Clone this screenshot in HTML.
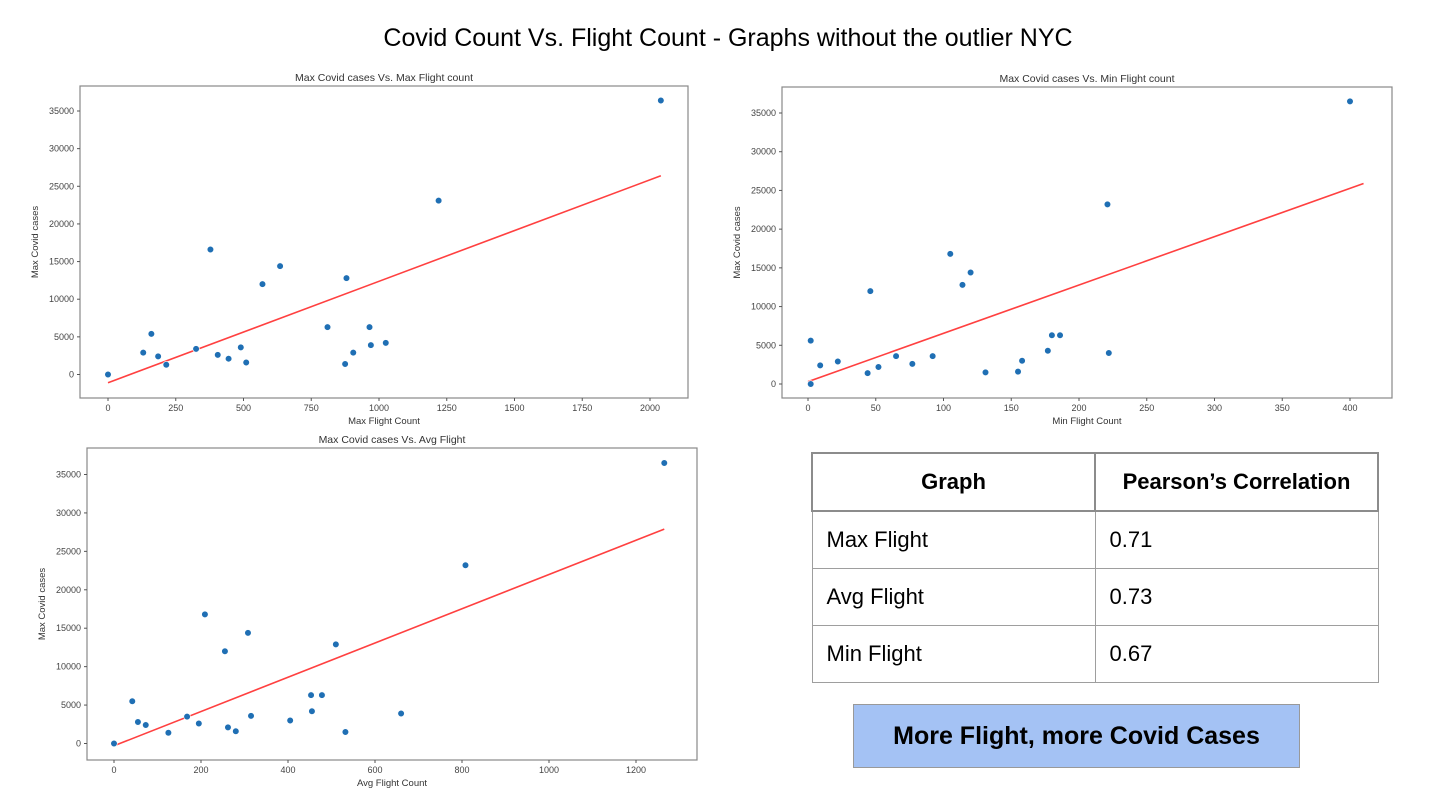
<!DOCTYPE html>
<html><head><meta charset="utf-8"><style>
body{margin:0;width:1440px;height:806px;background:#fff;font-family:"Liberation Sans",sans-serif;position:relative;overflow:hidden}
#title{position:absolute;left:0;width:1456px;top:24px;text-align:center;font-size:25px;color:#000}
svg{position:absolute;left:0;top:0}
table{position:absolute;left:811px;top:452px;border-collapse:collapse;font-size:22px}
td,th{border:1.5px solid #9e9e9e;height:56px;padding:0 14px;text-align:left}
th{font-weight:bold;text-align:center;border:2.5px solid #8c8c8c}
#btn{position:absolute;left:853px;top:704px;width:445px;height:62px;background:#a4c2f4;border:1px solid #999;font-weight:bold;font-size:25px;display:flex;align-items:center;justify-content:center}
</style></head><body>
<div id="title">Covid Count Vs. Flight Count - Graphs without the outlier NYC</div>
<svg id="svg" width="1440" height="806"></svg>
<table>
<tr><th style="width:253px">Graph</th><th style="width:253px">Pearson’s Correlation</th></tr>
<tr><td>Max Flight</td><td>0.71</td></tr>
<tr><td>Avg Flight</td><td>0.73</td></tr>
<tr><td>Min Flight</td><td>0.67</td></tr>
</table>
<div id="btn">More Flight, more Covid Cases</div>
<script>
const maxX=[0,130,160,185,215,325,378,405,445,490,510,570,635,810,875,880,905,965,970,1025,1220,2040];
const maxY=[0,2900,5400,2400,1300,3400,16600,2600,2100,3600,1600,12000,14400,6300,1400,12800,2900,6300,3900,4200,23100,36400];
const maxFit=[[0,-1100],[2040,26400]];
const maxTicks=[0,250,500,750,1000,1250,1500,1750,2000];
const minX=[2,2,9,22,44,46,52,65,77,92,105,114,120,131,155,158,177,180,186,221,222,400];
const minY=[0,5600,2400,2900,1400,12000,2200,3600,2600,3600,16800,12800,14400,1500,1600,3000,4300,6300,6300,23200,4000,36500];
const minFit=[[0,300],[410,25900]];
const minTicks=[0,50,100,150,200,250,300,350,400];
const avgX=[0,42,55,73,125,168,195,209,255,262,280,308,315,405,453,455,478,510,532,660,808,1265];
const avgY=[0,5500,2800,2400,1400,3500,2600,16800,12000,2100,1600,14400,3600,3000,6300,4200,6300,12900,1500,3900,23200,36500];
const avgFit=[[0,-300],[1265,27900]];
const avgTicks=[0,200,400,600,800,1000,1200];
const yTicks=[0,5000,10000,15000,20000,25000,30000,35000];
const svg=document.getElementById('svg');const NS='http://www.w3.org/2000/svg';
function el(t,a,txt){const e=document.createElementNS(NS,t);for(const k in a)e.setAttribute(k,a[k]);if(txt!=null)e.textContent=txt;svg.appendChild(e);return e;}
function chart(c){
 const sx=v=>c.x0+v*c.kx, sy=v=>c.y0-v*c.ky;
 const f=el('rect',{x:c.L,y:c.T,width:c.R-c.L,height:c.B-c.T,fill:'none',stroke:'#888','stroke-width':1.2});
 
 const t=el('text',{x:(c.L+c.R)/2,y:c.T-5,'text-anchor':'middle','font-size':10.5,fill:'#333'},c.title);
 
 c.xt.forEach(v=>{el('line',{x1:sx(v),x2:sx(v),y1:c.B,y2:c.B+3,stroke:'#555'});
  const e=el('text',{x:sx(v),y:c.B+13,'text-anchor':'middle','font-size':9,fill:'#444'},v);
  });
 yTicks.forEach(v=>{el('line',{x1:c.L-3,x2:c.L,y1:sy(v),y2:sy(v),stroke:'#555'});
  const e=el('text',{x:c.L-6,y:sy(v)+3,'text-anchor':'end','font-size':9,fill:'#444'},v);
  });
 const xl=el('text',{x:(c.L+c.R)/2,y:c.B+26,'text-anchor':'middle','font-size':9.5,fill:'#333'},c.xlab);
 
 const yx=c.L-42,yy=(c.T+c.B)/2;
 const yl=el('text',{x:yx,y:yy,'text-anchor':'middle','font-size':9.5,fill:'#333',transform:`rotate(-90 ${yx} ${yy})`},'Max Covid cases');
 
 const ln=el('line',{x1:sx(c.fit[0][0]),y1:sy(c.fit[0][1]),x2:sx(c.fit[1][0]),y2:sy(c.fit[1][1]),stroke:'#ff4040','stroke-width':1.6});
 
 c.xs.forEach((v,i)=>{const p=el('circle',{cx:sx(v),cy:sy(c.ys[i]),r:3.3,fill:'#1f6fb4',stroke:'#fff','stroke-width':0.6});
  });
}
chart({id:'max-flight-chart',L:80,R:688,T:86,B:398,x0:108,kx:271/1000,y0:374.5,ky:263.5/35000,xt:maxTicks,xs:maxX,ys:maxY,fit:maxFit,title:'Max Covid cases Vs. Max Flight count',xlab:'Max Flight Count'});
chart({id:'min-flight-chart',L:782,R:1392,T:87,B:398,x0:808,kx:542/400,y0:384,ky:271/35000,xt:minTicks,xs:minX,ys:minY,fit:minFit,title:'Max Covid cases  Vs. Min Flight count',xlab:'Min Flight Count'});
chart({id:'avg-flight-chart',L:87,R:697,T:448,B:760,x0:114,kx:87/200,y0:743.5,ky:269/35000,xt:avgTicks,xs:avgX,ys:avgY,fit:avgFit,title:'Max Covid cases Vs. Avg Flight',xlab:'Avg Flight Count'});
</script>
</body></html>
